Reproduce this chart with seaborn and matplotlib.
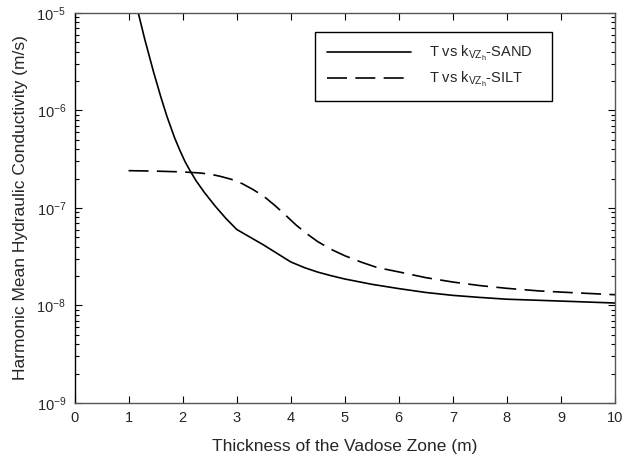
import numpy as np
import pandas as pd
import matplotlib
matplotlib.use("Agg")
import matplotlib.pyplot as plt
import seaborn as sns

# values (x = thickness in m, y = k in m/s)
sand_thickness = [1.0, 1.1, 1.18, 1.3, 1.46, 1.6, 1.71, 1.85, 1.95, 2.05, 2.14, 2.25, 2.4,
                  2.6, 2.8, 3.0, 3.5, 4.0, 4.25, 4.5, 4.75, 5.0, 5.5, 6.0, 6.5, 7.0, 7.5,
                  8.0, 9.0, 10.0]
sand_k = [2.82e-5, 1.55e-5, 1.0e-5, 5.37e-6, 2.51e-6, 1.36e-6, 8.7e-7, 5.28e-7, 3.89e-7,
          2.95e-7, 2.4e-7, 1.9e-7, 1.45e-7, 1.05e-7, 7.83e-8, 6.03e-8, 4.17e-8, 2.8e-8,
          2.45e-8, 2.2e-8, 2.02e-8, 1.87e-8, 1.65e-8, 1.49e-8, 1.36e-8, 1.27e-8, 1.21e-8,
          1.16e-8, 1.11e-8, 1.06e-8]

silt_thickness = [1.0, 1.5, 2.0, 2.3, 2.5, 2.7, 2.9, 3.1, 3.3, 3.5, 3.7, 3.9, 4.1, 4.3,
                  4.5, 4.75, 5.0, 5.3, 5.6, 6.0, 6.5, 7.0, 7.5, 8.0, 8.6, 9.2, 10.0]
silt_k = [2.415e-7, 2.388e-7, 2.344e-7, 2.29e-7, 2.23e-7, 2.11e-7, 1.97e-7, 1.78e-7,
          1.55e-7, 1.32e-7, 1.07e-7, 8.5e-8, 6.68e-8, 5.43e-8, 4.52e-8, 3.76e-8, 3.24e-8,
          2.79e-8, 2.45e-8, 2.21e-8, 1.93e-8, 1.74e-8, 1.6e-8, 1.5e-8, 1.41e-8, 1.355e-8,
          1.29e-8]

x_ticks = list(range(0, 11))
y_ticks = [1e-9, 1e-8, 1e-7, 1e-6, 1e-5]

sand_df = pd.DataFrame({"T": sand_thickness, "k": sand_k})
silt_df = pd.DataFrame({"T": silt_thickness, "k": silt_k})

sns.set_style("ticks")
plt.rcParams["font.family"] = ["Liberation Sans", "DejaVu Sans"]
plt.rcParams["mathtext.fontset"] = "custom"
plt.rcParams["mathtext.rm"] = "Liberation Sans"
plt.rcParams["mathtext.it"] = "Liberation Sans"
plt.rcParams["axes.unicode_minus"] = False

fig = plt.figure(figsize=(6.24, 4.62), dpi=100)
ax = fig.add_axes([0.1194, 0.1277, 0.8662, 0.8442])

sns.lineplot(data=sand_df, x="T", y="k", ax=ax, color="black", lw=1.2,
             label=r"T vs k$_{\mathregular{VZ}_{\mathregular{h}}}$-SAND")
sns.lineplot(data=silt_df, x="T", y="k", ax=ax, color="black", lw=1.2,
             label=r"T vs k$_{\mathregular{VZ}_{\mathregular{h}}}$-SILT")
ax.lines[1].set_dashes([12, 5])

ax.set_yscale("log")
ax.set_xlim(0, 10)
ax.set_ylim(1e-9, 1e-5)
ax.set_xticks(x_ticks)
ax.set_yticks(y_ticks)
ax.set_yticklabels([r"10$^{\mathregular{%d}}$" % int(np.log10(v)) for v in y_ticks])
ax.tick_params(which="both", direction="in", top=True, right=True, labelsize=10.5,
               width=0.8, color="black")
ax.tick_params(which="major", length=5, pad=6)
ax.tick_params(which="minor", length=3)
for side in ["top", "right", "bottom"]:
    ax.spines[side].set_color("#555555")
ax.spines["left"].set_color("black")
for s in ax.spines.values():
    s.set_linewidth(1.0)

ax.set_xlabel("Thickness of the Vadose Zone (m)", fontsize=12.5, labelpad=10)
ax.set_ylabel("Harmonic Mean Hydraulic Conductivity (m/s)", fontsize=12.5, labelpad=6)

leg = ax.legend(loc="upper left", bbox_to_anchor=(0.445, 0.779, 0.438, 0.172), mode="expand",
                fontsize=10.5, handlelength=5.8, handletextpad=1.2, labelspacing=0.5,
                borderpad=0.8, borderaxespad=0, fancybox=False, framealpha=1)
leg.get_frame().set_edgecolor("black")
leg.get_frame().set_linewidth(1.0)
leg.get_lines()[1].set_dashes([12, 5])

fig.savefig("out.png", dpi=100)
